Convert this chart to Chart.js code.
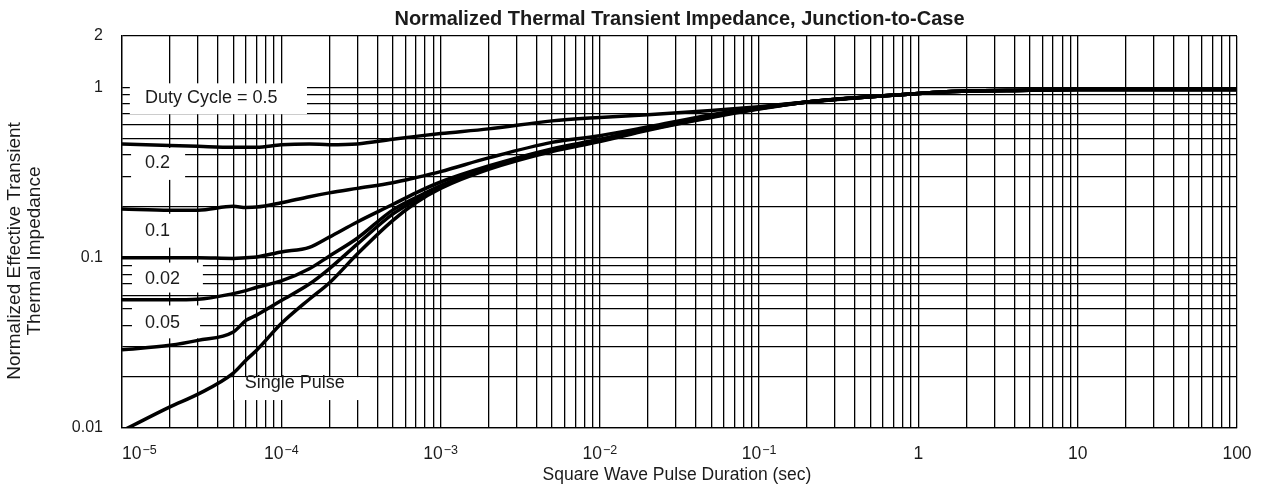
<!DOCTYPE html>
<html>
<head>
<meta charset="utf-8">
<script src="https://cdn.jsdelivr.net/npm/chart.js@4.4.1/dist/chart.umd.min.js"></script>
<style>
  html, body { margin: 0; padding: 0; background: #fff; }
  #wrap { width: 1265px; height: 485px; }
</style>
</head>
<body>
<div id="wrap"><canvas id="chart-canvas"></canvas></div>
<script>
// pulse duration (sec), shared by every curve
const pulse = [1e-5, 2e-5, 3e-5, 5e-5, 6e-5, 7e-5, 1e-4, 1.5e-4, 2e-4, 3e-4, 5e-4, 7e-4,
               1e-3, 2e-3, 5e-3, 1e-2, 2e-2, 5e-2, 0.1, 0.2, 0.5, 1, 2, 5, 10, 100];

// normalized effective transient thermal impedance, one array per duty cycle
const duty05 = [0.465, 0.455, 0.45, 0.445, 0.445, 0.445, 0.46, 0.465, 0.46, 0.465, 0.495, 0.515,
                0.535, 0.57, 0.635, 0.665, 0.69, 0.73, 0.77, 0.82, 0.88, 0.92, 0.95, 0.96, 0.97, 0.97];
const duty02 = [0.193, 0.19, 0.19, 0.2, 0.197, 0.198, 0.21, 0.228, 0.24, 0.255, 0.275, 0.295,
                0.32, 0.385, 0.475, 0.52, 0.585, 0.69, 0.76, 0.82, 0.88, 0.92, 0.95, 0.96, 0.97, 0.97];
const duty01 = [0.10, 0.10, 0.10, 0.099, 0.10, 0.101, 0.108, 0.115, 0.132, 0.162, 0.205, 0.24,
                0.278, 0.345, 0.435, 0.495, 0.575, 0.68, 0.755, 0.82, 0.88, 0.92, 0.95, 0.96, 0.97, 0.97];
const dutyA  = [0.0566, 0.0566, 0.057, 0.0615, 0.064, 0.067, 0.073, 0.086, 0.102, 0.13, 0.19, 0.225,
                0.265, 0.34, 0.43, 0.49, 0.57, 0.675, 0.75, 0.82, 0.88, 0.92, 0.95, 0.96, 0.97, 0.97];
const dutyB  = [0.0288, 0.0306, 0.0327, 0.0366, 0.0428, 0.046, 0.056, 0.07, 0.086, 0.12, 0.18, 0.218,
                0.26, 0.335, 0.425, 0.485, 0.565, 0.67, 0.75, 0.82, 0.88, 0.92, 0.95, 0.96, 0.97, 0.97];
const single = [0.0096, 0.0133, 0.0158, 0.021, 0.025, 0.0286, 0.041, 0.057, 0.071, 0.105, 0.165, 0.21,
                0.255, 0.33, 0.42, 0.48, 0.56, 0.665, 0.745, 0.82, 0.88, 0.92, 0.95, 0.96, 0.97, 0.97];

// tick labels
const xTickValues = [1e-5, 1e-4, 1e-3, 1e-2, 1e-1, 1, 10, 100];
const xTickLabels = [['10', '\u22125'], ['10', '\u22124'], ['10', '\u22123'], ['10', '\u22122'],
                     ['10', '\u22121'], ['1', ''], ['10', ''], ['100', '']];
const yTickValues = [0.01, 0.1, 1, 2];
const yTickLabels = ['0.01', '0.1', '1', '2'];

// curve labels printed on the plot
const curveLabelText = ['Duty Cycle = 0.5', '0.2', '0.1', '0.02', '0.05', 'Single Pulse'];
// white box behind each label [xmin, xmax, ytop, ybottom] and text anchor [x, y], in axis units
const curveLabelBoxes = [
  { box: [1.12e-5, 1.45e-4, 1.055, 0.695], at: [1.394e-5, 0.862] },
  { box: [1.14e-5, 2.49e-5, 0.44, 0.286], at: [1.394e-5, 0.359] },
  { box: [1.14e-5, 2.49e-5, 0.181, 0.1144], at: [1.394e-5, 0.1439] },
  { box: [1.155e-5, 3.22e-5, 0.0935, 0.0624], at: [1.394e-5, 0.0754] },
  { box: [1.155e-5, 3.09e-5, 0.0524, 0.0336], at: [1.394e-5, 0.0411] },
  { box: [5.05e-5, 3.6e-4, 0.01987, 0.01459], at: [5.9e-5, 0.01831] }
];

const FONT = '"Liberation Sans", Arial, Helvetica, sans-serif';
const INK = '#1b1b1b';

const chartText = {
  id: 'chartText',
  beforeDatasetsDraw(chart) {
    const { ctx, scales: { x, y } } = chart;
    ctx.save();
    curveLabelBoxes.forEach((l, i) => {
      const x0 = x.getPixelForValue(l.box[0]), x1 = x.getPixelForValue(l.box[1]);
      const y0 = y.getPixelForValue(l.box[2]), y1 = y.getPixelForValue(l.box[3]);
      ctx.fillStyle = '#fff';
      ctx.fillRect(x0, y0, x1 - x0, y1 - y0);
      ctx.fillStyle = INK;
      ctx.font = '18px ' + FONT;
      ctx.textAlign = 'left';
      ctx.textBaseline = 'middle';
      ctx.fillText(curveLabelText[i], x.getPixelForValue(l.at[0]), y.getPixelForValue(l.at[1]));
    });
    ctx.restore();
  },
  afterDraw(chart) {
    const { ctx, chartArea: a, scales: { x, y } } = chart;
    ctx.save();
    ctx.fillStyle = INK;

    // title
    ctx.font = 'bold 20px ' + FONT;
    ctx.textAlign = 'center';
    ctx.textBaseline = 'middle';
    ctx.fillText('Normalized Thermal Transient Impedance, Junction-to-Case', (a.left + a.right) / 2, 19);

    // y ticks
    ctx.font = '16px ' + FONT;
    ctx.textAlign = 'right';
    yTickValues.forEach((v, i) => ctx.fillText(yTickLabels[i], a.left - 19, y.getPixelForValue(v)));

    // x ticks with raised exponent
    ctx.textAlign = 'left';
    ctx.textBaseline = 'alphabetic';
    const base = a.bottom + 31;
    xTickValues.forEach((v, i) => {
      const [m, e] = xTickLabels[i];
      ctx.font = '17.5px ' + FONT;
      const w1 = ctx.measureText(m).width;
      ctx.font = '12.5px ' + FONT;
      const w2 = e ? ctx.measureText(e).width + 1 : 0;
      const px = x.getPixelForValue(v);
      let left = px - (w1 + w2) / 2;
      if (i === 0) left = a.left;
      ctx.font = '17.5px ' + FONT;
      ctx.fillText(m, left, base);
      if (e) {
        ctx.font = '12.5px ' + FONT;
        ctx.fillText(e, left + w1 + 1, base - 5);
      }
    });

    // axis titles
    ctx.font = '17.5px ' + FONT;
    ctx.textAlign = 'center';
    ctx.textBaseline = 'middle';
    ctx.fillText('Square Wave Pulse Duration (sec)', 677, a.bottom + 47);

    ctx.translate(0, 251);
    ctx.rotate(-Math.PI / 2);
    ctx.font = '19px ' + FONT;
    ctx.fillText('Normalized Effective Transient', 0, 15);
    ctx.fillText('Thermal Impedance', 0, 35);
    ctx.restore();
  }
};

function curve(label, values) {
  return {
    label: label,
    data: pulse.map((p, i) => ({ x: p, y: values[i] })),
    borderColor: '#000',
    backgroundColor: '#000',
    borderWidth: 3.5,
    pointRadius: 0,
    cubicInterpolationMode: 'monotone',
    fill: false
  };
}

function logGrid(fromExp, toExp, extra) {
  return function(axis) {
    const t = [];
    for (let e = fromExp; e <= toExp; e++) {
      for (let k = 1; k <= 9; k++) t.push({ value: k * Math.pow(10, e) });
    }
    extra.forEach(v => t.push({ value: v }));
    axis.ticks = t;
  };
}

new Chart(document.getElementById('chart-canvas'), {
  type: 'line',
  plugins: [chartText],
  data: {
    datasets: [
      curve('0.5', duty05),
      curve('0.2', duty02),
      curve('0.1', duty01),
      curve('0.05', dutyA),
      curve('0.02', dutyB),
      curve('Single Pulse', single)
    ]
  },
  options: {
    responsive: true,
    maintainAspectRatio: false,
    animation: false,
    layout: { padding: { left: 122, right: 28, top: 36, bottom: 57 } },
    plugins: {
      legend: { display: false },
      tooltip: { enabled: false },
      title: { display: false }
    },
    scales: {
      x: {
        type: 'logarithmic',
        min: 1e-5,
        max: 100,
        afterBuildTicks: logGrid(-5, 1, [100]),
        afterFit: s => { s.height = 0; },
        ticks: { display: false },
        grid: { color: '#000', lineWidth: 1.3, drawTicks: false },
        border: { color: '#000', width: 1.3 }
      },
      y: {
        type: 'logarithmic',
        min: 0.01,
        max: 2,
        afterBuildTicks: logGrid(-2, -1, [1, 2]),
        afterFit: s => { s.width = 0; },
        ticks: { display: false },
        grid: { color: '#000', lineWidth: 1.3, drawTicks: false },
        border: { color: '#000', width: 1.3 }
      }
    }
  }
});
</script>
</body>
</html>
